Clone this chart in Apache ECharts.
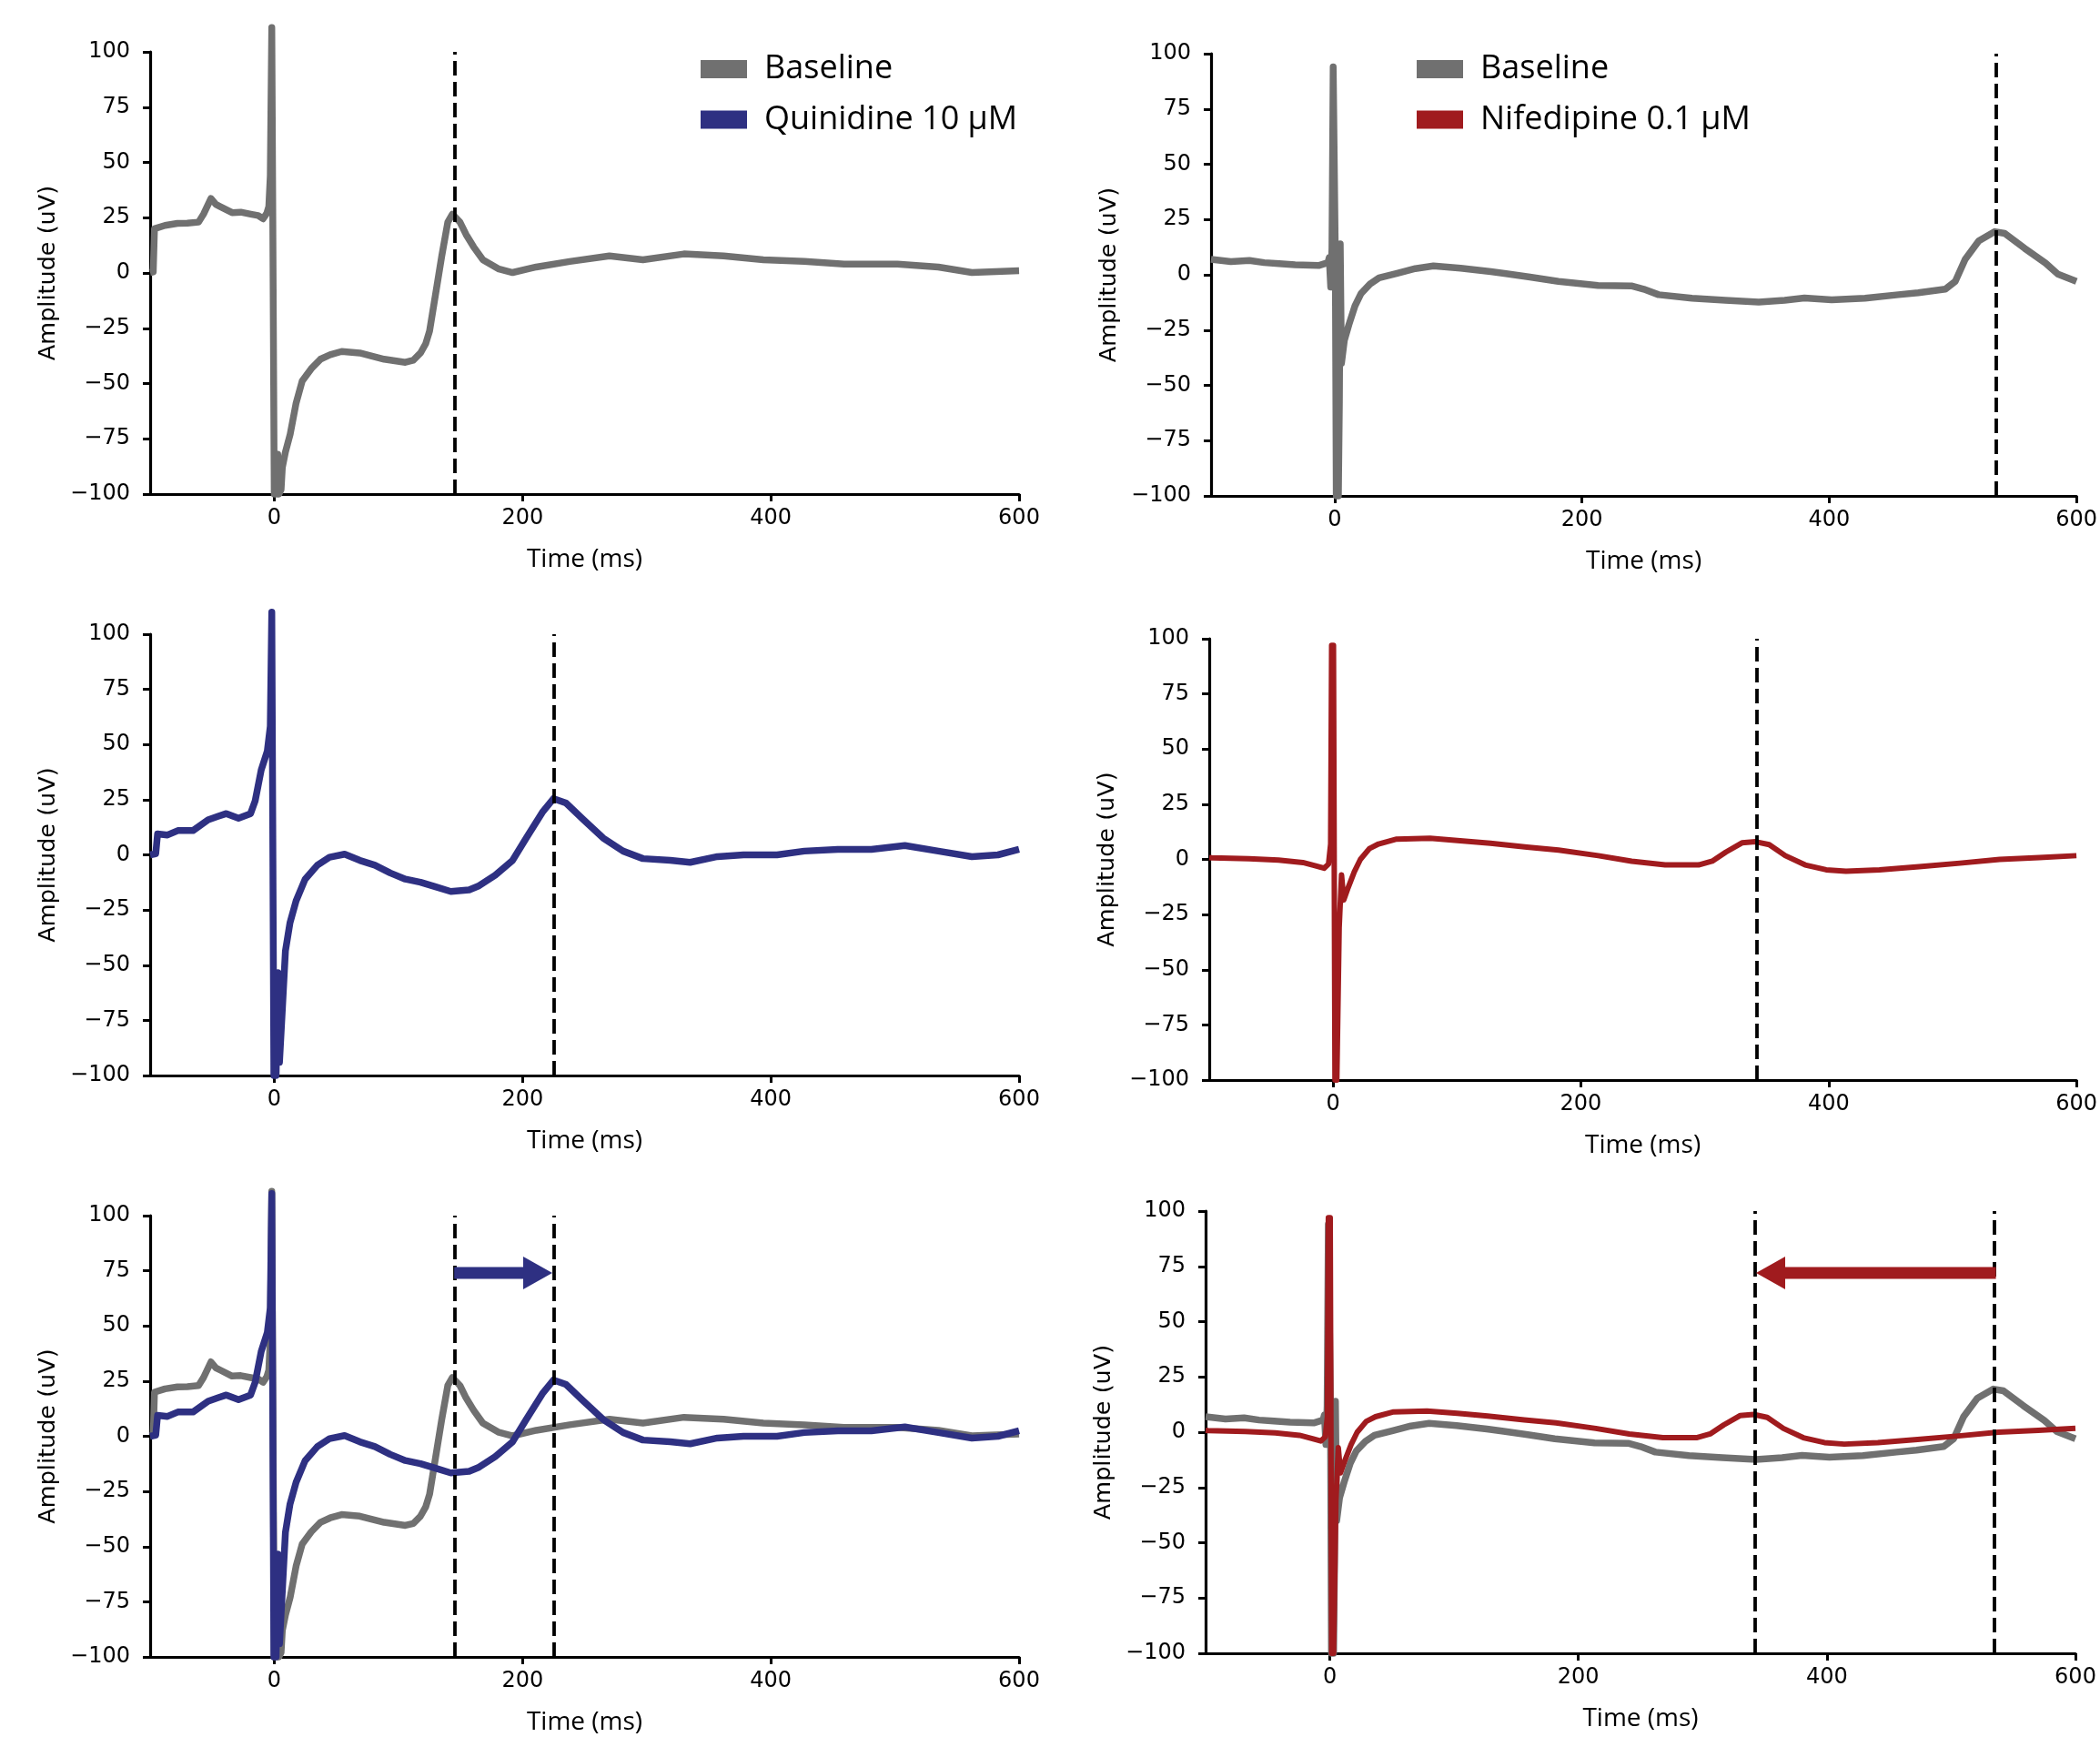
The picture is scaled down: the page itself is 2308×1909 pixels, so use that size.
<!DOCTYPE html>
<html>
<head>
<meta charset="utf-8">
<script src="https://cdn.jsdelivr.net/npm/echarts@6/dist/echarts.min.js"></script>
<style>
  html, body { margin: 0; background: #fff; }
  #chart { width: 2308px; height: 1909px; }
</style>
</head>
<body>
<div id="chart"></div>
<script>
// traces: [time (ms), amplitude (uV)]
const baselineQuinidine = [
  [-100, 0.2], [-97.5, 0.5], [-96.5, 20], [-88, 21.5], [-78, 22.4], [-70, 22.5], [-61, 23], [-57, 26.6],
  [-51, 33.7], [-47, 31], [-43.5, 30], [-34, 27.3], [-27, 27.5], [-19, 26.6], [-13, 26], [-9, 24.5],
  [-6, 27], [-4.4, 30], [-3.2, 44], [-2, 111], [-1, 111], [0, -100], [2, -100], [2.8, -82], [3.8, -100],
  [5.5, -98], [6.5, -88], [9, -81], [12.8, -73], [17.6, -58.8], [22.5, -48.9], [29.8, -43.3], [37.2, -39],
  [45, -37], [54.3, -35.5], [68.9, -36.2], [88.5, -39], [105.6, -40.4], [112, -39.5], [117.8, -36.2],
  [122, -32], [125.1, -26.3], [130, -9.4], [134.9, 7.6], [139.8, 23], [143.5, 26.6], [149.6, 23],
  [154.5, 17.4], [160.6, 11.8], [168, 6], [181, 1.8], [192, 0.2], [211, 2.7], [238, 5.2], [270, 7.7],
  [297, 6], [330, 8.6], [362, 7.7], [394, 6], [427, 5.2], [459, 4], [502, 4], [535, 2.7], [562, 0.2], [600, 1]
];
const quinidine = [
  [-100, 0], [-95.5, 0.5], [-94, 9.5], [-86, 9], [-77.7, 11], [-65.5, 11], [-53.3, 15.9], [-45, 17.5],
  [-38.6, 18.7], [-28.8, 16.6], [-19.1, 18.7], [-15.4, 24.4], [-10.5, 38.5], [-5.6, 47], [-3.2, 58.3],
  [-2, 110], [-1, 110], [-0.3, -100], [1.5, -100], [2.9, -53.4], [4.2, -94], [6.6, -69], [9, -43.5],
  [12.7, -30.7], [17.6, -20.8], [24.9, -11], [34.7, -4.7], [44.5, -1.1], [56.7, 0.3], [68.9, -2.5],
  [81.1, -4.7], [93.4, -8.2], [105.6, -11], [117.8, -12.4], [130, -14.5], [142.2, -16.6], [157, -15.9],
  [165, -14], [178, -9.2], [192, -2.5], [203, 7.6], [216, 19.3], [225, 25.5], [235, 23.5], [249, 16],
  [265, 7.6], [281, 1.7], [297, -1.7], [319, -2.5], [335, -3.4], [357, -0.8], [378, 0], [405, 0],
  [427, 1.7], [454, 2.5], [481, 2.5], [508, 4.2], [535, 1.7], [562, -0.8], [583, 0], [600, 2.5]
];
const baselineNifedipine = [
  [-100, 7], [-84, 6], [-69, 6.5], [-57, 5.5], [-45, 5], [-32, 4.5], [-13, 4.2], [-5.5, 5.5],
  [-4.4, 7.8], [-3.2, -5.6], [-2.2, 12], [-1.2, 94], [-0.3, 94], [0.5, 10], [1.3, -100], [3, -100],
  [3.8, -58], [4.5, 14], [5.5, -40], [7.8, -29.7], [11.5, -22.6], [16.4, -14.1], [21.3, -8.5],
  [28.6, -4.2], [35.9, -1.4], [50.6, 0.7], [65.2, 2.8], [79.9, 4], [101.9, 3], [126.3, 1.4],
  [138.6, 0.5], [158, -1], [181, -3], [213, -4.8], [240, -5], [250, -6.5], [262, -9],
  [289, -10.6], [316, -11.5], [343, -12.3], [364, -11.5], [380, -10.5], [402, -11.3], [429, -10.6],
  [456, -9], [472, -8.1], [494, -6.5], [502, -3], [510, 7], [521, 15.3], [534, 19.5], [542, 18.7],
  [558, 12], [575, 5.3], [585, 0.3], [600, -3]
];
const nifedipine = [
  [-100, 0.8], [-98, 0.7], [-68, 0.3], [-44, -0.3], [-24.4, -1.4], [-14.7, -2.8], [-7.3, -4], [-3.7, -2.1],
  [-2, 7], [-1.2, 97], [0.3, 97], [1.5, -100], [3, -100], [4.9, -31], [6.8, -7], [8.6, -18.4],
  [12.2, -12.7], [17.1, -5.6], [22, 0], [29.3, 4.9], [36.7, 7], [51.3, 9.2], [78.2, 9.6], [102.6, 8.5],
  [127, 7.3], [156.4, 5.6], [182, 4.2], [214, 1.7], [241, -0.8], [268, -2.5], [295, -2.5], [306, -0.8],
  [317, 3.3], [330, 7.5], [341, 8], [352, 6.7], [365, 1.7], [381, -2.5], [398, -4.7], [414, -5.4],
  [441, -4.7], [473, -3.3], [506, -1.7], [538, 0], [570, 0.8], [600, 1.7]
];

// peak markers (ms) and shift arrows [from, to, amplitude]
const quinidinePeaks = [145, 225];
const nifedipinePeaks = [535, 342];
const quinidineShift = [145, 224, 74];
const nifedipineShift = [536, 343, 72];

const xTicks = [0, 200, 400, 600];
const names = { base: 'Baseline', quin: 'Quinidine 10 μM', nif: 'Nifedipine 0.1 μM' };
const colors = { base: '#707070', quin: '#2e3082', nif: '#a01b1e' };

const grids = [
  { left: 165, top: 57, width: 955, height: 486 },
  { left: 1331, top: 59, width: 954, height: 486 },
  { left: 165, top: 697, width: 955, height: 485 },
  { left: 1329, top: 702, width: 955, height: 485 },
  { left: 165, top: 1336, width: 955, height: 485 },
  { left: 1325, top: 1331, width: 956, height: 486 }
];

const panels = [
  { traces: [['base', baselineQuinidine]], peaks: [quinidinePeaks[0]] },
  { traces: [['base', baselineNifedipine]], peaks: [nifedipinePeaks[0]] },
  { traces: [['quin', quinidine]], peaks: [quinidinePeaks[1]] },
  { traces: [['nif', nifedipine]], peaks: [nifedipinePeaks[1]] },
  { traces: [['base', baselineQuinidine], ['quin', quinidine]], peaks: quinidinePeaks, shift: ['quin', quinidineShift] },
  { traces: [['base', baselineNifedipine], ['nif', nifedipine]], peaks: nifedipinePeaks, shift: ['nif', nifedipineShift] }
];

const tickFont = { fontFamily: 'DejaVu Sans', fontSize: 24, color: '#000' };
const minus = (v) => String(v).replace('-', '\u2212');

const xAxes = grids.map((g, i) => ({
  type: 'value', gridIndex: i, min: -100, max: 600,
  name: 'Time (ms)', nameLocation: 'middle', nameGap: 58,
  nameTextStyle: { fontFamily: 'Open Sans', fontSize: 28, color: '#000' },
  axisLine: { onZero: false, lineStyle: { color: '#000', width: 3.2 } },
  axisTick: { customValues: xTicks, length: 8, lineStyle: { color: '#000', width: 3 } },
  axisLabel: { customValues: xTicks, margin: 15, formatter: minus, ...tickFont },
  splitLine: { show: false }
}));

const yAxes = grids.map((g, i) => ({
  type: 'value', gridIndex: i, min: -100, max: 100, interval: 25,
  name: 'Amplitude (uV)', nameLocation: 'middle', nameGap: 99,
  nameTextStyle: { fontFamily: 'DejaVu Sans', fontSize: 25.5, color: '#000' },
  axisLine: { onZero: false, lineStyle: { color: '#000', width: 3.2 } },
  axisTick: { length: 8, lineStyle: { color: '#000', width: 3 } },
  axisLabel: { margin: 22, formatter: minus, ...tickFont },
  splitLine: { show: false }
}));

function renderArrow(params, api) {
  const a = api.coord([api.value(0), api.value(2)]);
  const b = api.coord([api.value(1), api.value(2)]);
  const dir = b[0] > a[0] ? 1 : -1;
  const headLen = 32, headHalf = 18, shaftHalf = 6.5;
  const base = b[0] - dir * headLen;
  return {
    type: 'polygon',
    shape: {
      points: [
        [a[0], a[1] - shaftHalf], [base, a[1] - shaftHalf], [base, a[1] - headHalf],
        [b[0], b[1]], [base, a[1] + headHalf], [base, a[1] + shaftHalf], [a[0], a[1] + shaftHalf]
      ]
    },
    style: { fill: api.visual('color') }
  };
}

const series = [];
panels.forEach((p, i) => {
  p.traces.forEach(([key, data], k) => {
    const last = k === p.traces.length - 1;
    series.push({
      type: 'line', name: names[key], xAxisIndex: i, yAxisIndex: i,
      data: data, showSymbol: false, clip: false, z: 2 + k,
      color: colors[key], itemStyle: { color: colors[key] },
      lineStyle: { color: colors[key], width: key === 'nif' ? 6 : 7.5, join: 'round' },
      markLine: last ? {
        silent: true, symbol: 'none', label: { show: false }, animation: false,
        lineStyle: { color: '#000', type: [16, 7], width: 3.8 },
        data: p.peaks.map((x) => ({ xAxis: x }))
      } : undefined
    });
  });
  if (p.shift) {
    series.push({
      type: 'custom', name: 'shift', xAxisIndex: i, yAxisIndex: i, z: 10,
      itemStyle: { color: colors[p.shift[0]] },
      renderItem: renderArrow, data: [p.shift[1]]
    });
  }
});

const legendBase = {
  orient: 'vertical', top: 58, padding: 0, itemWidth: 51, itemHeight: 20, itemGap: 19.5,
  icon: 'rect', selectedMode: false, itemStyle: { borderWidth: 0 },
  textStyle: { fontFamily: 'Open Sans', fontSize: 36, lineHeight: 36, color: '#000', padding: [0, 0, 0, 14] }
};

const chart = echarts.init(document.getElementById('chart'), null, { renderer: 'canvas' });
chart.setOption({
  animation: false,
  backgroundColor: '#fff',
  grid: grids,
  xAxis: xAxes,
  yAxis: yAxes,
  legend: [
    { ...legendBase, left: 770, data: [names.base, names.quin] },
    { ...legendBase, left: 1557, data: [names.base, names.nif] }
  ],
  series: series
});
</script>
</body>
</html>
